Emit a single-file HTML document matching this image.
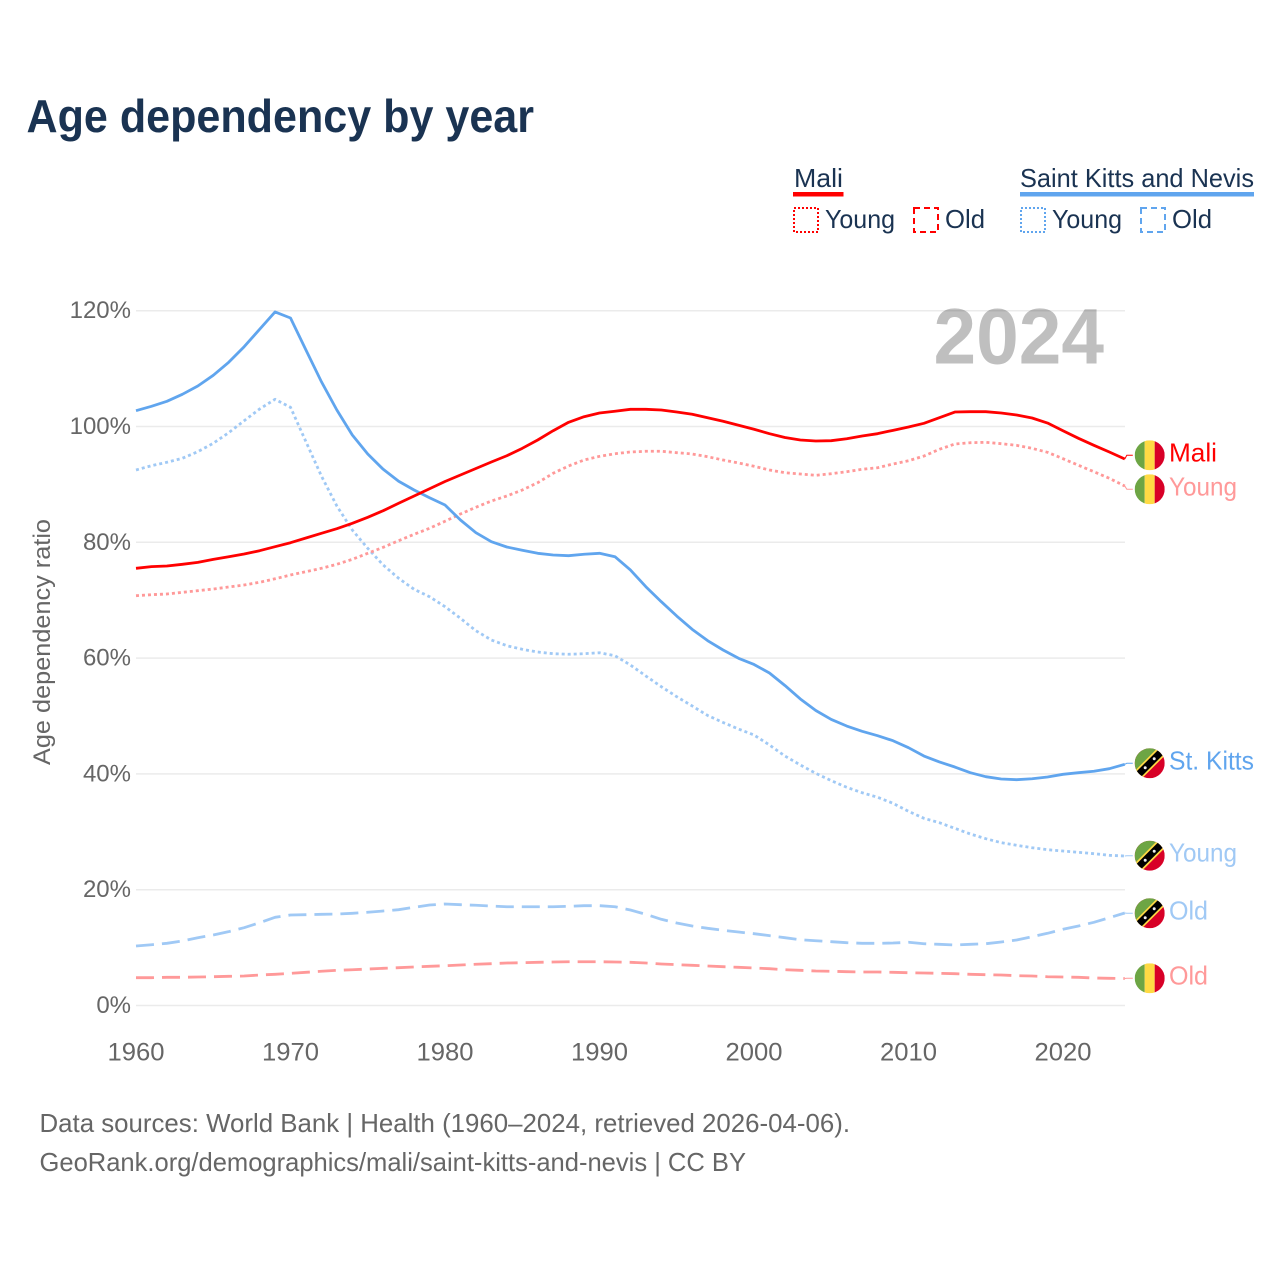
<!DOCTYPE html>
<html lang="en">
<head>
<meta charset="utf-8">
<title>Age dependency by year</title>
<style>
html,body{margin:0;padding:0;background:#fff;}
svg{display:block;font-family:"Liberation Sans",sans-serif;}
</style>
</head>
<body>
<svg id="chart" xmlns="http://www.w3.org/2000/svg" width="1280" height="1280" viewBox="0 0 1280 1280">
  <defs>
    <clipPath id="flag-clip"><circle cx="0" cy="0" r="15"/></clipPath>
    <g id="flag-mali" clip-path="url(#flag-clip)">
      <rect x="-15" y="-15" width="10" height="30" fill="#6da544"/>
      <rect x="-5" y="-15" width="10" height="30" fill="#ffda44"/>
      <rect x="5" y="-15" width="10" height="30" fill="#d80027"/>
    </g>
    <g id="flag-kitts" clip-path="url(#flag-clip)">
      <rect x="-15" y="-15" width="30" height="30" fill="#d80027"/>
      <polygon points="-15,-15 15,-15 -15,15" fill="#6da544"/>
      <line x1="-15" y1="15" x2="15" y2="-15" stroke="#ffda44" stroke-width="10.5"/>
      <line x1="-15" y1="15" x2="15" y2="-15" stroke="#000" stroke-width="7"/>
      <circle cx="-4.5" cy="4.5" r="1.5" fill="#eee"/>
      <circle cx="4.5" cy="-4.5" r="1.5" fill="#eee"/>
    </g>
  </defs>
  <rect width="1280" height="1280" fill="#fff"/>
  <text x="26.5" y="132" font-size="46" font-weight="700" fill="#1a3352" textLength="507.5" lengthAdjust="spacingAndGlyphs">Age dependency by year</text>

  <g font-size="26" fill="#1a3352">
    <text x="794" y="187" textLength="49" lengthAdjust="spacingAndGlyphs">Mali</text>
    <rect x="793" y="192" width="50.5" height="4.5" fill="#ff0000"/>
    <rect x="794" y="208" width="24" height="24" fill="none" stroke="#ff0000" stroke-width="2" stroke-dasharray="2 2"/>
    <text x="825" y="228" textLength="70" lengthAdjust="spacingAndGlyphs">Young</text>
    <rect x="914" y="208" width="24" height="24" fill="none" stroke="#ff0000" stroke-width="2" stroke-dasharray="6 4"/>
    <text x="945" y="228" textLength="40" lengthAdjust="spacingAndGlyphs">Old</text>
    <text x="1020" y="187" textLength="234" lengthAdjust="spacingAndGlyphs">Saint Kitts and Nevis</text>
    <rect x="1020" y="192" width="234" height="4.5" fill="#60a5ee"/>
    <rect x="1021" y="208" width="24" height="24" fill="none" stroke="#60a5ee" stroke-width="2" stroke-dasharray="2 2"/>
    <text x="1052" y="228" textLength="70" lengthAdjust="spacingAndGlyphs">Young</text>
    <rect x="1141" y="208" width="24" height="24" fill="none" stroke="#60a5ee" stroke-width="2" stroke-dasharray="6 4"/>
    <text x="1172" y="228" textLength="40" lengthAdjust="spacingAndGlyphs">Old</text>
  </g>

  <g id="grid"></g>
  <g id="y-ticks"></g>
  <g id="x-ticks"></g>
  <text x="933.5" y="363.5" font-size="79" font-weight="700" fill="#000" fill-opacity="0.25" textLength="170.5" lengthAdjust="spacingAndGlyphs">2024</text>
  <text transform="translate(50,765) rotate(-90)" font-size="24" fill="#666" textLength="246" lengthAdjust="spacingAndGlyphs">Age dependency ratio</text>
  <g id="series"></g>
  <g id="end-labels"></g>

  <text x="39.5" y="1132" font-size="26" fill="#666" textLength="810.5" lengthAdjust="spacingAndGlyphs">Data sources: World Bank | Health (1960–2024, retrieved 2026-04-06).</text>
  <text x="39.5" y="1171" font-size="26" fill="#666" textLength="706.5" lengthAdjust="spacingAndGlyphs">GeoRank.org/demographics/mali/saint-kitts-and-nevis | CC BY</text>
</svg>
<script>
const years = [1960,1961,1962,1963,1964,1965,1966,1967,1968,1969,1970,1971,1972,1973,1974,1975,1976,1977,1978,1979,1980,1981,1982,1983,1984,1985,1986,1987,1988,1989,1990,1991,1992,1993,1994,1995,1996,1997,1998,1999,2000,2001,2002,2003,2004,2005,2006,2007,2008,2009,2010,2011,2012,2013,2014,2015,2016,2017,2018,2019,2020,2021,2022,2023,2024];
const xTickLabels = [1960,1970,1980,1990,2000,2010,2020];
const yTickLabels = [0,20,40,60,80,100,120];

const maliTotal = [75.51,75.80,75.91,76.20,76.54,77.05,77.51,77.98,78.55,79.24,79.93,80.74,81.55,82.35,83.28,84.32,85.46,86.74,88.00,89.25,90.50,91.62,92.75,93.87,94.95,96.23,97.67,99.27,100.73,101.69,102.33,102.63,102.97,102.97,102.85,102.50,102.11,101.52,100.90,100.21,99.52,98.76,98.10,97.67,97.50,97.55,97.89,98.36,98.76,99.34,99.91,100.55,101.52,102.50,102.56,102.56,102.33,101.99,101.47,100.60,99.27,97.96,96.75,95.60,94.39];
const maliYoung = [70.78,70.95,71.07,71.36,71.64,71.93,72.28,72.63,73.09,73.70,74.35,74.92,75.51,76.20,77.06,78.10,79.14,80.28,81.38,82.42,83.63,84.89,86.05,87.13,88.00,89.03,90.29,91.92,93.18,94.21,94.85,95.30,95.60,95.72,95.72,95.48,95.25,94.78,94.21,93.70,93.13,92.49,92.02,91.80,91.57,91.85,92.19,92.61,92.88,93.52,94.09,94.90,96.06,96.98,97.20,97.27,97.03,96.75,96.23,95.54,94.44,93.30,92.19,91.05,89.72];
const maliOld = [4.80,4.80,4.87,4.87,4.92,4.97,5.04,5.09,5.27,5.39,5.56,5.73,5.91,6.08,6.18,6.30,6.42,6.53,6.65,6.77,6.87,6.99,7.12,7.22,7.34,7.39,7.46,7.51,7.56,7.56,7.56,7.51,7.46,7.34,7.17,7.05,6.94,6.82,6.70,6.60,6.48,6.36,6.18,6.08,5.96,5.91,5.84,5.79,5.79,5.73,5.66,5.61,5.56,5.49,5.39,5.32,5.27,5.15,5.09,4.97,4.92,4.87,4.75,4.70,4.66];
const kittsTotal = [102.73,103.49,104.35,105.56,106.99,108.84,111.09,113.78,116.79,119.78,118.74,113.21,107.74,102.85,98.53,95.25,92.61,90.54,89.03,87.70,86.44,83.85,81.66,80.10,79.19,78.62,78.10,77.81,77.69,77.93,78.10,77.51,75.22,72.33,69.74,67.27,64.97,63.01,61.40,59.97,58.90,57.43,55.27,52.94,50.95,49.40,48.27,47.36,46.60,45.73,44.53,43.09,42.06,41.19,40.21,39.52,39.12,39.00,39.17,39.46,39.93,40.21,40.45,40.90,41.66];
const kittsYoung = [92.49,93.23,93.82,94.51,95.65,97.10,98.93,101.00,103.02,104.70,103.32,97.37,91.45,86.27,82.12,78.96,76.08,73.78,71.88,70.60,68.88,66.87,64.73,63.13,62.14,61.52,61.05,60.76,60.66,60.76,60.93,60.41,58.81,56.91,55.06,53.33,51.73,50.09,48.88,47.75,46.72,44.99,43.09,41.54,40.10,38.83,37.69,36.75,35.96,34.92,33.54,32.33,31.57,30.60,29.62,28.81,28.12,27.67,27.25,26.91,26.68,26.46,26.22,25.94,25.82];
const kittsOld = [10.28,10.50,10.74,11.14,11.71,12.18,12.75,13.44,14.30,15.23,15.63,15.68,15.75,15.80,15.92,16.10,16.32,16.55,16.96,17.36,17.53,17.41,17.31,17.18,17.06,17.06,17.06,17.06,17.13,17.24,17.24,17.06,16.49,15.75,14.89,14.25,13.73,13.33,12.99,12.69,12.40,12.06,11.71,11.36,11.19,11.02,10.85,10.74,10.74,10.79,10.92,10.67,10.57,10.45,10.57,10.67,10.97,11.31,11.88,12.47,13.16,13.73,14.37,15.16,15.98];

const NS = 'http://www.w3.org/2000/svg';
const x = year => 136 + (year - 1960) * 15.45;
const y = value => 1005.5 - value * 5.79;

function make(parent, tag, attrs, text) {
  const el = document.createElementNS(NS, tag);
  Object.keys(attrs).forEach(k => el.setAttribute(k, attrs[k]));
  if (text !== undefined) el.textContent = text;
  parent.appendChild(el);
  return el;
}

const gridGroup = document.getElementById('grid');
const yTickGroup = document.getElementById('y-ticks');
const xTickGroup = document.getElementById('x-ticks');
const seriesGroup = document.getElementById('series');
const labelGroup = document.getElementById('end-labels');

yTickLabels.forEach(t => {
  const line = make(gridGroup, 'line', {x1: 136, x2: 1125, y1: y(t), y2: y(t), stroke: '#ebebeb', 'stroke-width': 1.5});
  
  
  const label = make(yTickGroup, 'text', {x: 131, y: y(t) + 7.5, 'text-anchor': 'end', 'font-size': 24, fill: '#666'}, t + '%');
  
  
});

xTickLabels.forEach(t => {
  const label = make(xTickGroup, 'text', {x: x(t), y: 1060.5, 'text-anchor': 'middle', 'font-size': 25, fill: '#666', textLength: 57, lengthAdjust: 'spacingAndGlyphs'}, String(t));
  
  
});

function drawSeries(name, values, color, dash, labelY, labelText, labelWidth, flagId) {
  const d = values.map((v, i) => (i ? 'L' : 'M') + x(years[i]).toFixed(2) + ' ' + y(v).toFixed(2)).join(' ');
  const path = make(seriesGroup, 'path', {d: d, fill: 'none', stroke: color, 'stroke-width': 2.8, 'stroke-linejoin': 'round', 'stroke-dasharray': dash});
  
  

  const lastX = x(years[years.length - 1]);
  const lastY = y(values[values.length - 1]);
  const connector = make(labelGroup, 'path', {d: 'M' + lastX + ' ' + lastY + ' L' + (lastX + 2) + ' ' + labelY + ' L' + (lastX + 8) + ' ' + labelY, fill: 'none', stroke: color, 'stroke-width': 1});
  
  

  const flag = make(labelGroup, 'use', {href: '#' + flagId, transform: 'translate(1149.7,' + labelY + ')'});
  
  

  const label = make(labelGroup, 'text', {x: 1169, y: labelY + 6, 'font-size': 26, fill: color, textLength: labelWidth, lengthAdjust: 'spacingAndGlyphs'}, labelText);
  
  
}

drawSeries('mali-old', maliOld, '#ff9999', '18 8', 978.3, 'Old', 39, 'flag-mali');
drawSeries('kitts-old', kittsOld, '#a0c9f5', '18 8', 913.3, 'Old', 39, 'flag-kitts');
drawSeries('kitts-young', kittsYoung, '#a0c9f5', '3 3', 855.7, 'Young', 68, 'flag-kitts');
drawSeries('mali-young', maliYoung, '#ff9999', '3 3', 489.3, 'Young', 68, 'flag-mali');
drawSeries('kitts-total', kittsTotal, '#60a5ee', 'none', 763.3, 'St. Kitts', 85, 'flag-kitts');
drawSeries('mali-total', maliTotal, '#ff0000', 'none', 455.3, 'Mali', 48, 'flag-mali');
</script>
</body>
</html>
